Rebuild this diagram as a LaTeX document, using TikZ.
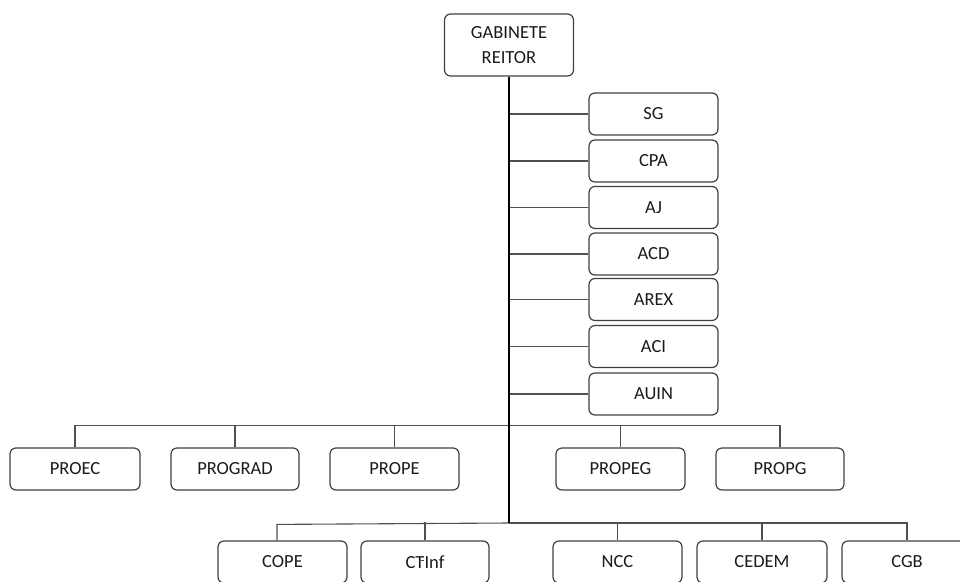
\documentclass[tikz,border=0pt]{standalone}
\usepackage{fontspec}
\setmainfont{Carlito}
\definecolor{boxline}{HTML}{404040}
\definecolor{txt}{HTML}{1A1A1A}
\definecolor{linegray}{HTML}{505050}
\begin{document}
\begin{tikzpicture}[x=1pt,y=-1pt,
  unit/.style={draw=boxline, line width=1.2pt, rounded corners=6pt,
    minimum width=129pt, minimum height=42pt, inner sep=0pt,
    font=\fontsize{18.5}{25}\selectfont, text=txt, align=center},
  trunk/.style={line width=2pt, draw=black},
  branch/.style={line width=1.1pt, draw=linegray}]
\useasboundingbox (0,0) rectangle (960,581);
\clip (0,0) rectangle (960,581);

% head office
\node[unit, minimum height=62pt] (gab) at (509,45) {GABINETE\\REITOR};

% staff units along the trunk
\node[unit] (sg)   at (653.5,114)   {SG};
\node[unit] (cpa)  at (653.5,161)   {CPA};
\node[unit] (aj)   at (653.5,207.5) {AJ};
\node[unit] (acd)  at (653.5,254)   {ACD};
\node[unit] (arex) at (653.5,299.5) {AREX};
\node[unit] (aci)  at (653.5,346.5) {ACI};
\node[unit] (auin) at (653.5,394)   {AUIN};

% pro-rectorates
\node[unit, minimum width=130pt] (proec)   at (75,469)    {PROEC};
\node[unit, minimum width=128pt] (prograd) at (235,469)   {PROGRAD};
\node[unit, minimum width=129pt] (prope)   at (394.5,469) {PROPE};
\node[unit, minimum width=129pt] (propeg)  at (620.5,469) {PROPEG};
\node[unit, minimum width=128pt] (propg)   at (780,469)   {PROPG};

% bottom row
\node[unit] (cope)  at (282.5,562) {COPE};
\node[unit, minimum width=128pt] (ctinf) at (425,562)   {CTInf};
\node[unit] (ncc)   at (617.5,562) {NCC};
\node[unit, minimum width=130pt] (cedem) at (762,562)   {CEDEM};
\node[unit, minimum width=130pt] (cgb)   at (907,562)   {CGB};

\coordinate (j3) at (509,523);

% branches to staff units
\foreach \n in {sg,cpa,aj,acd,arex,aci,auin}
  \draw[branch] (gab.south |- \n.west) -- (\n.west);

% pro-rectorate bus
\draw[branch] (proec.north) -- ++(0,-22) -| (propg.north);
\foreach \n in {prograd,prope,propeg}
  \draw[branch] (\n.north) -- ++(0,-22);

% bottom bus
\draw[branch] ([xshift=-5.5pt]cope.north) -- ++(0,-16) -- (j3);
\draw[branch] (j3) -| (cgb.north);
\draw[branch] (ctinf.north) -- ++(0,-18);
\draw[branch] (ncc.north) -- ++(0,-18);
\draw[branch] (cedem.north) -- ++(0,-18);
\draw[branch, line width=0.9pt] ([xshift=-4pt,yshift=-20.5pt]ctinf.north) -- ++(3,0);

% main trunk
\draw[trunk] (gab.south) -- (j3);
\end{tikzpicture}
\end{document}
